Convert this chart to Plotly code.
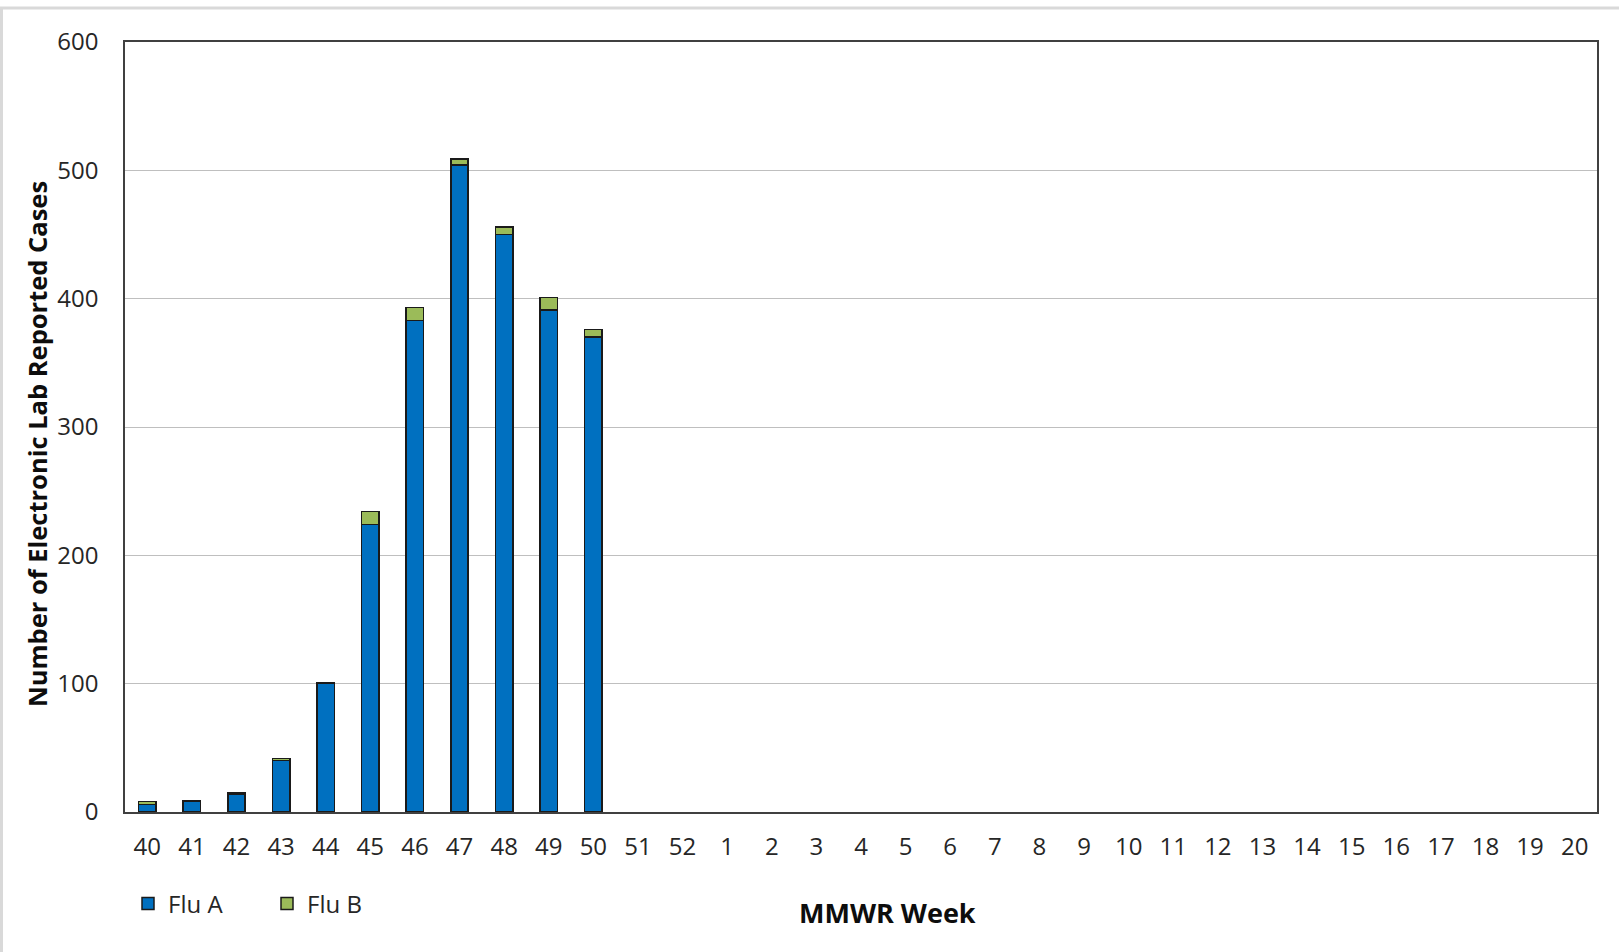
import plotly.graph_objects as go

weeks = [str(w) for w in list(range(40, 53)) + list(range(1, 21))]
flu_a = [6, 8, 14, 40, 100, 224, 383, 504, 450, 391, 370] + [None] * 22
flu_b = [2, 0.5, 1, 1.5, 0.5, 10, 10, 5, 6, 10, 6] + [None] * 22
y_ticks = [0, 100, 200, 300, 400, 500, 600]

FONT = "Open Sans"
TXT = "#262626"

fig = go.Figure()
fig.add_trace(go.Bar(x=weeks, y=flu_a, name="Flu A",
                     marker=dict(color="#0070C0", line=dict(color="#1a1a1a", width=1.5))))
fig.add_trace(go.Bar(x=weeks, y=flu_b, name="Flu B",
                     marker=dict(color="#9BBB59", line=dict(color="#1a1a1a", width=1.5))))

L, R, T, B = 125, 22, 42, 140
W, H = 1619, 952
pw, ph = W - L - R, H - T - B

def px(x):
    return (x - L) / pw

def py(y):
    return (H - B - y) / ph

fig.update_layout(
    width=W, height=H,
    barmode="stack", bargap=0.61,
    plot_bgcolor="white", paper_bgcolor="white",
    margin=dict(l=L, r=R, t=T, b=B, pad=0),
    font=dict(family=FONT, size=24, color=TXT),
    showlegend=True,
    legend=dict(orientation="h", x=px(128), xanchor="left", y=py(904), yanchor="middle",
                font=dict(size=24, color=TXT), itemwidth=30, traceorder="normal",
                entrywidth=94),
    xaxis=dict(type="category", categoryorder="array", categoryarray=weeks,
               showline=True, linecolor="#404040", linewidth=1.5, mirror=True,
               showgrid=False, ticks="", ticklabelstandoff=12,
               tickfont=dict(size=24, color=TXT)),
    yaxis=dict(range=[0, 600], tickvals=y_ticks, showline=True, linecolor="#404040",
               linewidth=1.5, mirror=True, showgrid=True, gridcolor="#BFBFBF",
               gridwidth=1, zeroline=False, ticks="", ticklabelstandoff=20,
               tickfont=dict(size=24, color=TXT)),
    annotations=[
        dict(text="<b>MMWR Week</b>", x=px(888), y=py(912), xref="paper", yref="paper",
             showarrow=False, font=dict(size=27, color="#0d0d0d"), xanchor="center", yanchor="middle"),
        dict(text="<b>Number of Electronic Lab Reported Cases</b>", x=px(37), y=py(444),
             xref="paper", yref="paper", showarrow=False, textangle=-90,
             font=dict(size=25.5, color="#0d0d0d"), xanchor="center", yanchor="middle"),
    ],
    shapes=[
        dict(type="line", xref="paper", yref="paper", x0=px(0), x1=px(1619), y0=py(8), y1=py(8),
             line=dict(color="#D9D9D9", width=3)),
        dict(type="line", xref="paper", yref="paper", x0=px(1.5), x1=px(1.5), y0=py(8), y1=py(952),
             line=dict(color="#D9D9D9", width=3)),
    ],
)

fig.write_html("out.html", config={"displayModeBar": False},
               post_script="document.body.style.margin='0px';")
